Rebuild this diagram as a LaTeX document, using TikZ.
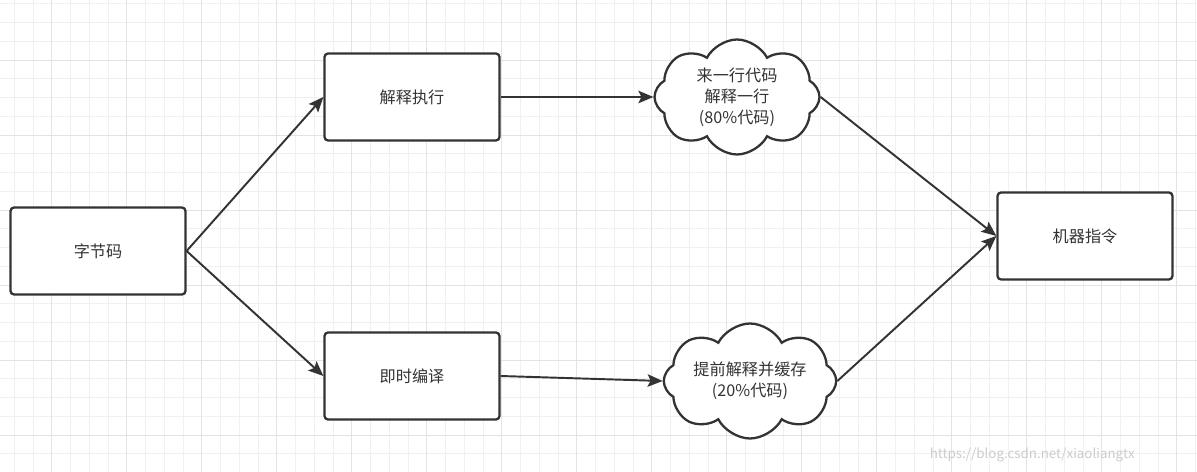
\documentclass[tikz,border=0pt]{standalone}
\usepackage{fontspec}
\usepackage{tikz}
\usetikzlibrary{arrows.meta,shapes.symbols}
\newfontfamily\cjk{Noto Sans CJK SC}
\definecolor{gridminor}{gray}{0.94}
\definecolor{gridmajor}{gray}{0.89}
\definecolor{edge}{HTML}{333333}

\begin{document}
\begin{tikzpicture}[
        x=0.02cm, y=-0.02cm,
        box/.style={draw=edge, line width=1.3pt, rectangle, rounded corners=2pt, minimum width=3.5cm, minimum height=1.74cm, fill=white, font=\cjk\fontsize{9.2}{12}\selectfont, text=edge},
        puff/.style={draw=edge, line width=1.3pt, cloud, cloud puffs=8, cloud puff arc=125, cloud ignores aspect, inner sep=0pt, minimum width=3.3cm, minimum height=2.3cm, fill=white, align=center, font=\cjk\fontsize{9.2}{12}\selectfont, text=edge},
        arrow/.style={-{Stealth[length=0.3cm, width=0.25cm, inset=0.06cm]}, line width=1.1pt, draw=edge}
    ]
    \useasboundingbox (0,0) rectangle (1197,472);
    \fill[white] (0,0) rectangle (1197,472);

    % Background grid
    \foreach \gx in {0,...,63} \draw[gridminor, line width=0.5pt] ({14.2+\gx*18.75},0) -- ++(0,472);
    \foreach \gy in {0,...,24} \draw[gridminor, line width=0.5pt] (0,{3.75+\gy*18.75}) -- ++(1197,0);
    \foreach \gx in {0,...,15} \draw[gridmajor, line width=0.5pt] ({51.7+\gx*75},0) -- ++(0,472);
    \foreach \gy in {0,...,5} \draw[gridmajor, line width=0.5pt] (0,{60+\gy*75}) -- ++(1197,0);

    % Bytecode block
    \node[box] (bytecode) at (98,251) {字节码};

    % Interpreter and JIT blocks
    \node[box] (interp) at (412,97) {解释执行};
    \node[box] (jit) at (412,376) {即时编译};

    % Clouds
    \node[puff] (lineby) at (737,97) {来一行代码\\解释一行\\(80\%代码)};
    \node[puff, minimum width=3.45cm] (cached) at (750,381) {提前解释并缓存\\(20\%代码)};

    % Machine code block
    \node[box] (machine) at (1085,236) {机器指令};

    % Connectors
    \draw[arrow] (bytecode.east) -- (interp.west);
    \draw[arrow] (bytecode.east) -- (jit.west);
    \draw[arrow] (interp.east) -- (lineby.west);
    \draw[arrow] (jit.east) -- (cached.west);
    \draw[arrow] (lineby.east) -- (machine.west);
    \draw[arrow] (cached.east) -- (machine.west);

    % Watermark
    \node[text=gray!40, font=\cjk\fontsize{7.6}{10}\selectfont, anchor=east, inner sep=0pt] (mark) at (1135,455) {https://blog.csdn.net/xiaoliangtx};

\end{tikzpicture}
\end{document}
